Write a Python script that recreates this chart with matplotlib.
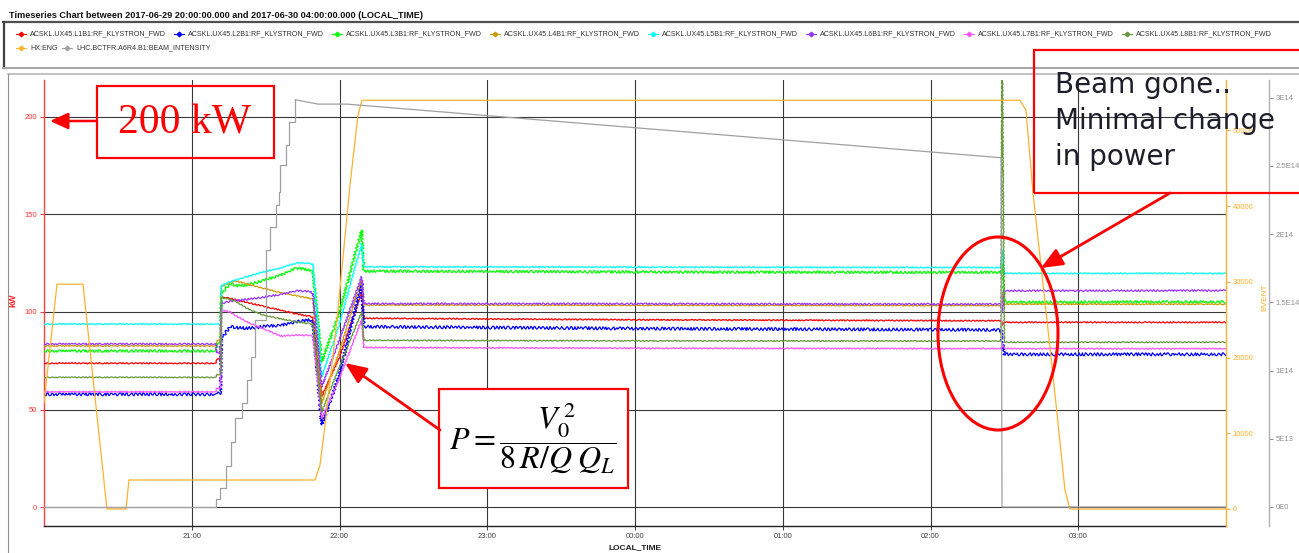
import matplotlib
matplotlib.use('Agg')
import matplotlib.pyplot as plt
from matplotlib.lines import Line2D
from matplotlib.patches import Rectangle, Ellipse, FancyArrowPatch

plt.rcParams['font.family'] = ['Liberation Sans', 'DejaVu Sans']
plt.rcParams['mathtext.fontset'] = 'stix'

# ---------------- data (time = hours after 2017-06-29 20:00) ----------------
HOUR_TICKS = [1, 2, 3, 4, 5, 6, 7]
HOUR_LABELS = ['21:00', '22:00', '23:00', '00:00', '01:00', '02:00', '03:00']

KW_TICKS = [0, 50, 100, 150, 200]
EVENT_TICKS = [0, 10000, 20000, 30000, 40000, 50000]
BEAM_TICKS = [0, 5e13, 1e14, 1.5e14, 2e14, 2.5e14, 3e14]
BEAM_TICK_LABELS = ['0E0', '5E13', '1E14', '1.5E14', '2E14', '2.5E14', '3E14']

# klystron forward power, kW, sampled at common break points
kly_t = [0.0, 1.164, 1.17, 1.195, 1.20, 1.26, 1.30, 1.37, 1.48, 1.60, 1.71,
         1.80, 1.82, 1.88, 2.00, 2.15, 2.165, 4.0, 6.478, 6.484, 6.50, 8.0]
l1b1 = [73.7, 73.7, 76, 76, 107.5, 107, 106.2, 105, 103, 101, 99,
        97.8, 97.3, 56.6, 77, 110, 96.8, 96, 95.5, 93, 94.7, 94.7]
l2b1 = [57.8, 57.8, 58.5, 58.5, 86.5, 92.5, 92, 91.6, 92.5, 93.3, 95,
        95.9, 95, 42.1, 68, 115, 92.5, 91.5, 90.8, 85, 78.3, 78.3]
l3b1 = [80.0, 80.0, 84, 84, 109.5, 114.4, 113.5, 113.8, 116, 119, 122.6,
        121.5, 120.7, 74.5, 100, 142, 121, 120.5, 120.3, 125, 105, 105.2]
l4b1 = [82.6, 82.6, 85.5, 85.5, 113, 115, 115.9, 114.5, 112.2, 110, 108.3,
        107, 106.7, 53.2, 80, 117, 103.6, 103.4, 103.3, 110, 104, 104]
l5b1 = [93.8, 93.8, 93.8, 93.8, 113.5, 115.5, 116.5, 118, 120.5, 122.5, 125.2,
        125, 124.5, 66.8, 94, 135, 123.2, 123, 122.8, 132, 119.8, 119.8]
l6b1 = [83.6, 83.6, 79, 79, 104.4, 105.5, 105.8, 106.5, 107.5, 109, 110.9,
        110.5, 109.6, 61.7, 86, 118, 104.3, 104.2, 104.0, 100, 110.9, 111.0]
l7b1 = [59.1, 59.1, 61, 61, 101, 100, 98, 95, 91.6, 87.7, 88.2,
        88, 87.3, 45.5, 66, 96, 81.8, 81.4, 81.2, 84, 81.2, 81.2]
l8b1 = [66.5, 66.5, 68, 68, 107.5, 106.5, 105.3, 102, 98.5, 96.5, 95,
        94, 93.7, 48.9, 72, 100, 85.5, 85.2, 85.1, 250, 84.5, 84.5]

kly_names = ['ACSKL.UX45.L1B1:RF_KLYSTRON_FWD', 'ACSKL.UX45.L2B1:RF_KLYSTRON_FWD',
             'ACSKL.UX45.L3B1:RF_KLYSTRON_FWD', 'ACSKL.UX45.L4B1:RF_KLYSTRON_FWD',
             'ACSKL.UX45.L5B1:RF_KLYSTRON_FWD', 'ACSKL.UX45.L6B1:RF_KLYSTRON_FWD',
             'ACSKL.UX45.L7B1:RF_KLYSTRON_FWD', 'ACSKL.UX45.L8B1:RF_KLYSTRON_FWD']
kly_values = [l1b1, l2b1, l3b1, l4b1, l5b1, l6b1, l7b1, l8b1]
kly_colors = ['#ff0000', '#0000ff', '#00ff00', '#cc9a06',
              '#00ffff', '#9933ff', '#ff55ff', '#66993a']
kly_noise = [0.6, 1.5, 1.3, 0.5, 0.6, 0.8, 0.6, 0.5]   # wiggle amplitude, px

# HX:ENG event number
event_t = [0.0, 0.088, 0.264, 0.426, 0.555, 0.575, 1.834, 1.868, 1.902, 1.983,
           2.071, 2.125, 2.152, 6.606, 6.646, 6.694, 6.829, 6.91, 6.944, 8.0]
event_v = [14000, 29700, 29700, 0, 0, 3830, 3830, 5800, 11100, 25000,
           42800, 52000, 54000, 54000, 52700, 41700, 17700, 2500, 0, 0]

# beam intensity: injection staircase, then decay and dump
beam_inj_t = [0.0, 1.164, 1.191, 1.232, 1.266, 1.293, 1.340, 1.374, 1.401, 1.428,
              1.503, 1.530, 1.570, 1.590, 1.597, 1.638, 1.658, 1.699]
beam_inj_v = [0, 0.059e14, 0.139e14, 0.30e14, 0.477e14, 0.653e14, 0.763e14, 0.93e14,
              1.10e14, 1.37e14, 1.885e14, 2.055e14, 2.215e14, 2.31e14, 2.51e14,
              2.655e14, 2.82e14, 2.985e14]
beam_dec_t = [1.699, 1.855, 2.05, 6.478, 6.484, 8.0]
beam_dec_v = [2.985e14, 2.953e14, 2.953e14, 2.56e14, 0, 0]

TITLE = ('Timeseries Chart between 2017-06-29 20:00:00.000 and '
         '2017-06-30 04:00:00.000 (LOCAL_TIME)')

# ---------------- figure ----------------
W, H = 1299, 553


def fx(px):
    return px / W


def fy(py):
    return 1 - py / H


fig = plt.figure(figsize=(W / 100, H / 100), dpi=100)
fig.patch.set_facecolor('white')

ax = fig.add_axes([fx(44), fy(526), 1182 / W, 446 / H])
ax2 = ax.twinx()
ax3 = ax.twinx()
ax3.spines['right'].set_position(('outward', 43 * 0.72))

# klystron traces (sketch gives the noisy look of the logged signals)
for vals, col, amp in zip(kly_values, kly_colors, kly_noise):
    ln, = ax.plot(kly_t, vals, color=col, lw=0.9, zorder=3)
    ln.set_sketch_params(scale=amp, length=4, randomness=2)

ax2.plot(event_t, event_v, color='#ffb130', lw=0.9)
ax3.plot(beam_inj_t, beam_inj_v, color='#a0a0a0', lw=0.9, drawstyle='steps-post')
ax3.plot(beam_dec_t, beam_dec_v, color='#a0a0a0', lw=0.9)

# limits and ticks
ax.set_xlim(0, 8)
ax.set_xticks(HOUR_TICKS)
ax.set_xticklabels(HOUR_LABELS)
ax.set_ylim(-9.74, 218.97)
ax.set_yticks(KW_TICKS)
ax2.set_ylim(-2246, 56671)
ax2.set_yticks(EVENT_TICKS)
ax2.set_yticklabels([str(v) for v in EVENT_TICKS])
ax3.set_ylim(-1.393e13, 3.1297e14)
ax3.set_yticks(BEAM_TICKS)
ax3.set_yticklabels(BEAM_TICK_LABELS)

ax.grid(True, color='#383838', lw=0.8)
ax.set_axisbelow(True)

for a in (ax, ax2, ax3):
    a.set_facecolor('none')
    for s in ('top', 'left', 'right', 'bottom'):
        a.spines[s].set_visible(False)
ax.spines['left'].set_visible(True)
ax.spines['left'].set_color('#ff4040')
ax.spines['bottom'].set_visible(True)
ax.spines['bottom'].set_color('#202020')
ax2.spines['right'].set_visible(True)
ax2.spines['right'].set_color('#ffb130')
ax3.spines['right'].set_visible(True)
ax3.spines['right'].set_color('#b0b0b0')
for a in (ax, ax2, ax3):
    for s in a.spines.values():
        s.set_linewidth(1.0)

ax.tick_params(axis='x', length=3, width=0.7, labelsize=5.5, colors='#404040', pad=2)
ax.tick_params(axis='y', length=3, width=0.7, labelsize=5.5, colors='#ff3030', pad=2)
ax2.tick_params(axis='y', length=3, width=0.7, labelsize=5.5, colors='#ffb130', pad=2)
ax3.tick_params(axis='y', length=3, width=0.7, labelsize=5.5, colors='#909090', pad=2)

ax.set_ylabel('kW', color='#ff2020', fontsize=6.5, fontweight='bold')
ax.yaxis.set_label_coords(-0.0228, 0.507)
ax2.set_ylabel('EVENT', color='#ffb130', fontsize=6)
ax2.yaxis.set_label_coords(1.0296, 0.513)
ax.set_xlabel('LOCAL_TIME', fontsize=6, fontweight='bold', color='#202020')
ax.xaxis.set_label_coords(0.5, -0.040)

# ---------------- header / legend panel ----------------
fig.text(fx(9), fy(15), TITLE, fontsize=6.6, fontweight='bold', va='center',
         ha='left', color='#101010', family=['Liberation Sans Narrow', 'Liberation Sans'])
fig.add_artist(Line2D([fx(3), fx(1299)], [fy(22), fy(22)], color='#505050', lw=1.6))
fig.add_artist(Line2D([fx(4), fx(4)], [fy(22), fy(68)], color='#404040', lw=1.6))
fig.add_artist(Line2D([fx(3), fx(1299)], [fy(68), fy(68)], color='#a8a8a8', lw=1.5))
fig.add_artist(Line2D([fx(8), fx(1299)], [fy(73.5), fy(73.5)], color='#b8b8b8', lw=1.2))
fig.add_artist(Line2D([fx(8), fx(8)], [fy(73.5), fy(553)], color='#909090', lw=0.8))

legend_items = [(n, c, 30 + 158 * i, 34) for i, (n, c) in enumerate(zip(kly_names, kly_colors))]
legend_items += [('HX:ENG', '#ffb130', 30, 48),
                 ('LHC.BCTFR.A6R4.B1:BEAM_INTENSITY', '#a0a0a0', 76, 48)]
for name, col, tx, ty in legend_items:
    fig.add_artist(Line2D([fx(tx - 14), fx(tx - 4)], [fy(ty), fy(ty)], color=col, lw=0.8))
    fig.add_artist(Line2D([fx(tx - 9)], [fy(ty)], color=col, marker='D', markersize=2.3, lw=0))
    fig.text(fx(tx), fy(ty), name, fontsize=5.1, va='center', ha='left', color='#303030')

# ---------------- annotations ----------------
RED = '#ff0000'
fig.add_artist(Rectangle((fx(97), fy(158)), 177 / W, 72 / H, transform=fig.transFigure,
                         fill=False, edgecolor=RED, lw=1.6, zorder=5))
fig.text(fx(185), fy(123), '200 kW', fontsize=30, color=RED, ha='center', va='center',
         family=['Liberation Serif', 'DejaVu Serif'], zorder=6)
fig.add_artist(FancyArrowPatch((fx(97), fy(121)), (fx(50), fy(121)), transform=fig.transFigure,
                               arrowstyle='-|>,head_length=11,head_width=5',
                               color=RED, lw=1.8, shrinkA=0, shrinkB=0, zorder=6))

fig.add_artist(Rectangle((fx(1034), fy(193)), 300 / W, 143 / H, transform=fig.transFigure,
                         fill=False, edgecolor=RED, lw=1.6, zorder=5))
fig.text(fx(1055), fy(121), 'Beam gone..\nMinimal change\nin power', fontsize=20,
         color='#1e1e2a', ha='left', va='center', linespacing=1.35,
         family=['DejaVu Sans'], zorder=6)
fig.add_artist(FancyArrowPatch((fx(1170), fy(193)), (fx(1041), fy(268)), transform=fig.transFigure,
                               arrowstyle='-|>,head_length=13,head_width=5.5',
                               color=RED, lw=2.0, shrinkA=0, shrinkB=0, zorder=6))

fig.add_artist(Ellipse((fx(998), fy(333.5)), 120 / W, 193 / H, transform=fig.transFigure,
                       fill=False, edgecolor=RED, lw=2.2, zorder=5))

fig.add_artist(Rectangle((fx(439), fy(488)), 189 / W, 99 / H, transform=fig.transFigure,
                         facecolor='white', edgecolor=RED, lw=1.6, zorder=5))
fig.text(fx(533), fy(438), r'$P=\dfrac{V_0^{\,2}}{8\,R/Q\;Q_L}$', fontsize=23,
         color='black', ha='center', va='center', zorder=6)
fig.add_artist(FancyArrowPatch((fx(440), fy(430)), (fx(345), fy(363)), transform=fig.transFigure,
                               arrowstyle='-|>,head_length=13,head_width=5.5',
                               color=RED, lw=2.0, shrinkA=0, shrinkB=0, zorder=6))

fig.savefig('out.png', dpi=100)
